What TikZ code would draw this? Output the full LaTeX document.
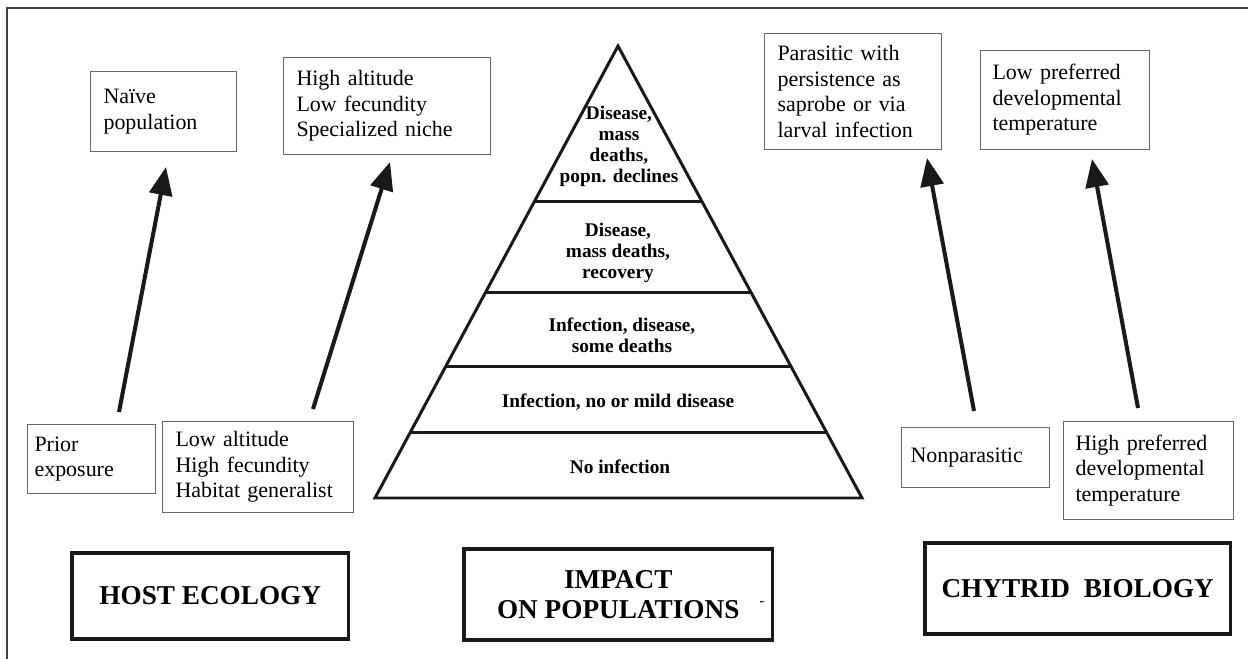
\documentclass[tikz,border=0pt]{standalone}
\usepackage{fontspec}
\setmainfont{Liberation Serif}
\usetikzlibrary{calc,arrows.meta}
\tikzset{
  thinbox/.style={draw=black!60, line width=0.6pt, anchor=north west, align=left, inner xsep=0.26cm, inner ysep=0pt, font=\fontsize{12.5}{14.5}\selectfont},
  bigbox/.style={draw=black!90, line width=2pt, anchor=north west, align=center, inner sep=0pt, font=\bfseries\fontsize{15.5}{17}\selectfont},
  layertext/.style={align=center, inner sep=0pt, font=\bfseries\fontsize{11}{12}\selectfont},
  pyr/.style={draw=black!90, line width=1.7pt, line join=miter},
  bigarrow/.style={draw=black!90, line width=2.3pt, -{Triangle[length=16pt,width=13pt]}},
  frameline/.style={draw=black!75, line width=0.9pt},
}

\begin{document}
\begin{tikzpicture}[x=0.02cm,y=-0.02cm]
  \useasboundingbox (0,0) rectangle (1248,659);
  % frame
  \draw[frameline] (7,659) -- (7,8) -- (1248,8);

  % pyramid
  \coordinate (apex) at (618,46);
  \coordinate (bl) at (375,498);
  \coordinate (br) at (862,498);
  \draw[pyr] (bl) -- (apex) -- (br) -- cycle;
  \foreach \t [count=\i] in {0.345,0.546,0.708,0.856}{
    \coordinate (L\i) at ($(apex)!\t!(bl)$);
    \coordinate (R\i) at ($(apex)!\t!(br)$);
    \draw[pyr] (L\i) -- (R\i);
  }
  \node[layertext] (lay1) at (619,146.5) {Disease,\\mass\\deaths,\\popn. declines};
  \node[layertext] (lay2) at (618,253) {Disease,\\mass deaths,\\recovery};
  \node[layertext] (lay3) at (622,335.5) {Infection, disease,\\some deaths};
  \node[layertext] (lay4) at (618,402) {Infection, no or mild disease};
  \node[layertext] (lay5) at (620,467) {No infection};

  % host ecology
  \node[thinbox, text width=2.40cm, minimum height=1.60cm] (naive) at (90,71) {Naïve\\population};
  \node[thinbox, text width=3.62cm, minimum height=1.94cm] (highalt) at (283,57) {High altitude\\Low fecundity\\Specialized niche};
  \node[thinbox, inner xsep=0.14cm, text width=2.28cm, minimum height=1.38cm] (prior) at (27,424) {Prior\\exposure};
  \node[thinbox, text width=3.30cm, minimum height=1.82cm] (lowalt) at (162,421) {Low altitude\\High fecundity\\Habitat generalist};

  % chytrid biology
  \node[thinbox, text width=3.02cm, minimum height=2.32cm] (parasitic) at (764,33) {Parasitic with\\persistence as\\saprobe or via\\larval infection};
  \node[thinbox, inner xsep=0.24cm, text width=2.90cm, minimum height=1.98cm] (lowpref) at (980,50) {Low preferred\\developmental\\temperature};
  \node[thinbox, inner xsep=0.18cm, text width=2.60cm, minimum height=1.20cm] (nonpar) at (901,427) {Nonparasitic};
  \node[thinbox, inner xsep=0.24cm, text width=2.92cm, minimum height=1.96cm] (highpref) at (1063,421) {High preferred\\developmental\\temperature};

  % arrows
  \coordinate (a1s) at (119,412);  \coordinate (a1e) at (166,167);
  \coordinate (a2s) at (313,409);  \coordinate (a2e) at (390,162);
  \coordinate (a3s) at (974,411);  \coordinate (a3e) at (927,158);
  \coordinate (a4s) at (1138,408); \coordinate (a4e) at (1092,159);
  \foreach \i in {1,2,3,4}{
    \draw[bigarrow] (a\i s) -- (a\i e);
  }

  % headings
  \node[bigbox, minimum width=5.54cm, minimum height=1.72cm] (host) at (70,551) {HOST ECOLOGY};
  \node[bigbox, minimum width=6.18cm, minimum height=1.82cm] (impact) at (462,547) {IMPACT\\ON POPULATIONS};
  \node[bigbox, minimum width=6.12cm, minimum height=1.82cm] (chytrid) at (923,541) {CHYTRID\ \ BIOLOGY};
  \node[inner sep=0pt, font=\bfseries\fontsize{8}{8}\selectfont] (dash) at (762,604) {-};
\end{tikzpicture}
\end{document}
